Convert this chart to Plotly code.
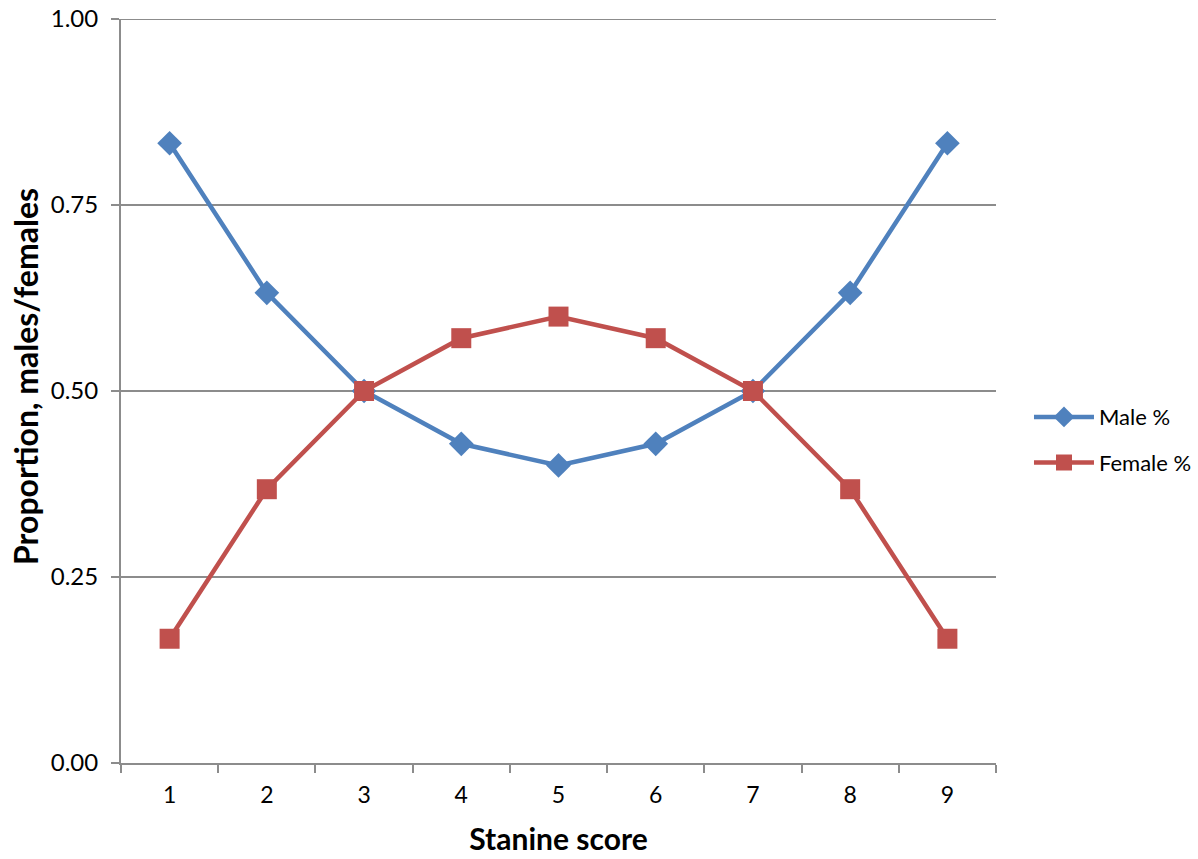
import plotly.graph_objects as go

categories = ["1", "2", "3", "4", "5", "6", "7", "8", "9"]
male = [0.833, 0.632, 0.500, 0.429, 0.400, 0.429, 0.500, 0.632, 0.833]
female = [0.167, 0.368, 0.500, 0.571, 0.600, 0.571, 0.500, 0.368, 0.167]
y_ticks = [0.0, 0.25, 0.5, 0.75, 1.0]

FONT = "Lato, 'Open Sans', sans-serif"
GRID = "#8c8c8c"

fig = go.Figure()
fig.add_trace(go.Scatter(
    x=categories, y=male, name="Male %", mode="lines+markers",
    legendgroup="m",
    line=dict(color="#4F81BD", width=4.5),
    marker=dict(symbol="diamond", size=19, color="#4F81BD"),
))
fig.add_trace(go.Scatter(
    x=categories, y=female, name="Female %", mode="lines+markers",
    legendgroup="f",
    line=dict(color="#C0504D", width=4.5),
    marker=dict(symbol="square", size=20, color="#C0504D"),
))

# top border gridline at 1.00
fig.add_shape(type="line", xref="paper", yref="y", x0=0, x1=1, y0=1, y1=1,
              line=dict(color=GRID, width=2), layer="below")

# y-axis title placed as annotation (Excel-style offset)
fig.add_annotation(
    text="<b>Proportion, males/females</b>", textangle=-90,
    xref="paper", yref="paper", x=(25 - 121) / 875, y=(763 - 377) / 744,
    xanchor="center", yanchor="middle", showarrow=False,
    font=dict(size=32, family=FONT, color="black"),
)

fig.update_layout(
    width=1198, height=859,
    margin=dict(l=121, r=202, t=19, b=96, autoexpand=False),
    plot_bgcolor="white", paper_bgcolor="white",
    font=dict(family=FONT, size=22, color="black"),
    showlegend=True,
    legend=dict(x=1.0377, y=0.434, xanchor="left", yanchor="middle",
                font=dict(size=22), tracegroupgap=14, itemwidth=60),
    xaxis=dict(
        type="category", tickson="boundaries", ticks="outside", ticklen=8,
        tickcolor=GRID, tickwidth=2, showline=True, linecolor=GRID, linewidth=2,
        showgrid=False, range=[-0.5, 8.5], automargin=False,
        title=dict(text="<b>Stanine score</b>", font=dict(size=30), standoff=22),
        tickfont=dict(size=23), ticklabelstandoff=10,
    ),
    yaxis=dict(
        range=[0, 1], tickvals=y_ticks, tickformat=".2f", automargin=False,
        ticks="outside", ticklen=8, tickcolor=GRID, tickwidth=2,
        showline=True, linecolor=GRID, linewidth=2,
        showgrid=True, gridcolor=GRID, gridwidth=2, zeroline=False,
        tickfont=dict(size=24), ticklabelstandoff=8,
    ),
)

fig.write_html("out.html")
